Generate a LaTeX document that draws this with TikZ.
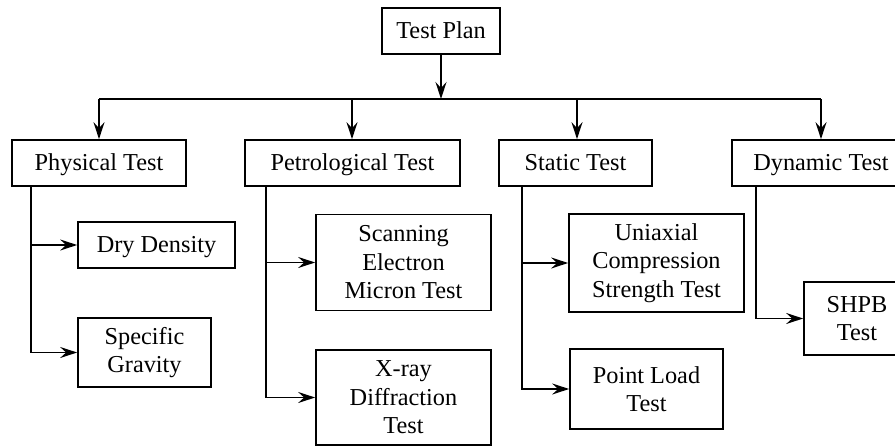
\documentclass[tikz,border=0pt]{standalone}
\usepackage{fontspec}
\setmainfont{Liberation Serif}
\usetikzlibrary{arrows.meta}
\begin{document}
\begin{tikzpicture}[x=1pt,y=-1pt,
  box/.style={draw, line width=1.7pt, inner sep=0pt, align=center,
    font=\fontsize{24.3}{28.5}\selectfont},
  one/.style={text height=19pt, text depth=5pt},
  line/.style={line width=1.7pt},
  arr/.style={line width=1.7pt, -{Stealth[length=17pt,width=11pt,inset=6pt]}}]
\useasboundingbox (0,0) rectangle (895,447);
\clip (0,0) rectangle (895,447);
% level 0
\node[box, one, minimum width=118pt, minimum height=46pt] (plan) at (441,31) {Test Plan};
% level 1
\node[box, one, minimum width=174pt, minimum height=46pt] (phys) at (99,163) {Physical Test};
\node[box, one, minimum width=215pt, minimum height=46pt] (petro) at (352.5,163) {Petrological Test};
\node[box, one, minimum width=153pt, minimum height=46pt] (stat) at (575.5,163) {Static Test};
\node[box, one, minimum width=178pt, minimum height=46pt] (dyn) at (821,163) {Dynamic Test};
% level 2
\node[box, one, minimum width=157pt, minimum height=46pt] (dry) at (156.5,245) {Dry Density};
\node[box, minimum width=133pt, minimum height=69pt] (spec) at (144.5,352.5) {Specific\\Gravity};
\node[box, minimum width=175pt, minimum height=96pt] (scan) at (403.5,262.5) {Scanning\\Electron\\Micron Test};
\node[box, minimum width=175pt, minimum height=95pt] (xray) at (403.5,397.5) {X-ray\\Diffraction\\Test};
\node[box, minimum width=175pt, minimum height=98pt] (uni) at (656.5,263) {Uniaxial\\Compression\\Strength Test};
\node[box, minimum width=153pt, minimum height=80pt] (point) at (646.5,389) {Point Load\\Test};
\node[box, minimum width=106pt, minimum height=73pt] (shpb) at (857,318.5) {SHPB\\Test};
% connectors
\coordinate (j) at (441,99);
\coordinate (b1) at (99,99);
\coordinate (b2) at (352,99);
\coordinate (b3) at (577,99);
\coordinate (b4) at (821,99);
\draw[arr] (plan) -- (j);
\draw[line] (b1) -- (b4);
\draw[arr] (b1) -- (b1 |- phys.north);
\draw[arr] (b2) -- (b2 |- petro.north);
\draw[arr] (b3) -- (b3 |- stat.north);
\draw[arr] (b4) -- (b4 |- dyn.north);
\coordinate (t1) at (31,186);
\coordinate (t2) at (266,186);
\coordinate (t3) at (522,186);
\coordinate (t4) at (756,186);
\draw[arr] (t1) |- (spec.west);
\draw[arr] (t1 |- dry.west) -- (dry.west);
\draw[arr] (t2) |- (xray.west);
\draw[arr] (t2 |- scan.west) -- (scan.west);
\draw[arr] (t3) |- (point.west);
\draw[arr] (t3 |- uni.west) -- (uni.west);
\draw[arr] (t4) |- (shpb.west);
\end{tikzpicture}
\end{document}
